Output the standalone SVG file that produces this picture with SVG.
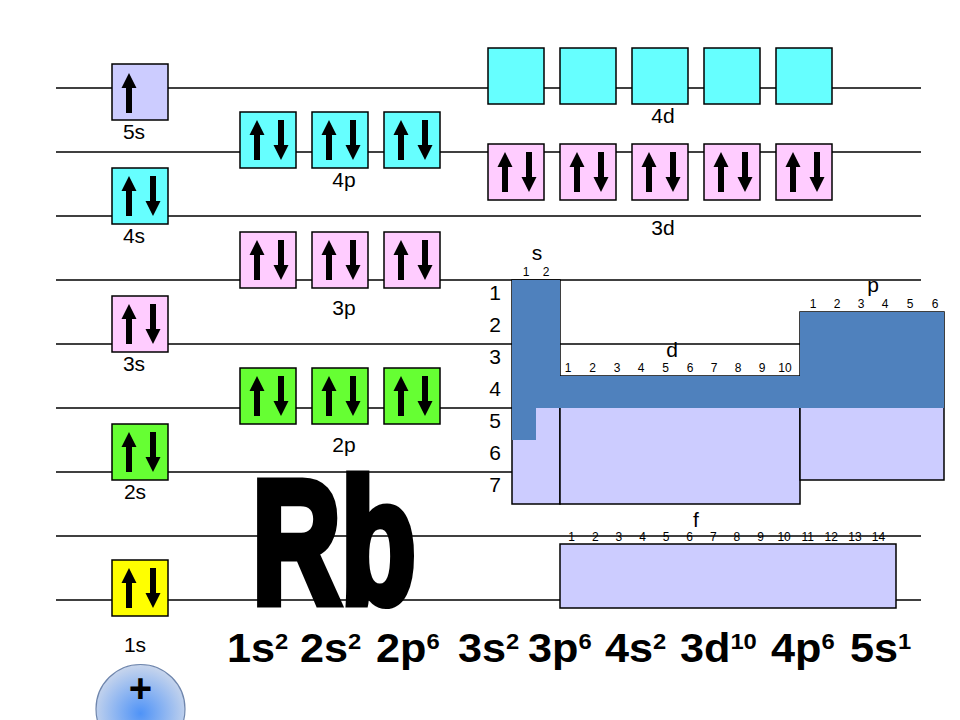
<svg xmlns="http://www.w3.org/2000/svg" xmlns:xlink="http://www.w3.org/1999/xlink" width="960" height="720" viewBox="0 0 960 720">
<style>
text{font-family:"Liberation Sans",Arial,sans-serif;fill:#000}
.lvl{stroke:#000;stroke-width:1.5}
.box{stroke:#000;stroke-width:1.5}
.lav{fill:#ccccff}.cy{fill:#66ffff}.pk{fill:#ffccff}.gr{fill:#66ff33}.ye{fill:#ffff00}
.lab{font-size:21px;text-anchor:middle}
.row{font-size:21px;text-anchor:middle}
.sm{font-size:12px;text-anchor:middle}
.cfg{font-size:40px;font-weight:bold}
.sup{font-size:22px}
</style>
<defs>
<polygon id="up" points="17,8 24.5,23 20,23 20,48 14,48 14,23 9.5,23" fill="#000"/>
<polygon id="dn" points="41,48 48.5,33 44,33 44,8 38,8 38,33 33.5,33" fill="#000"/>
<g id="pair"><use xlink:href="#up"/><use xlink:href="#dn"/></g>
<radialGradient id="nuc" cx="0.5" cy="0.55" r="0.55">
<stop offset="0" stop-color="#4f93f7"/>
<stop offset="1" stop-color="#c9d6ec"/>
</radialGradient>
</defs>
<rect width="960" height="720" fill="#fff"/>
<g id="levels">
<line class="lvl" x1="56" y1="88" x2="921" y2="88"/>
<line class="lvl" x1="56" y1="152" x2="921" y2="152"/>
<line class="lvl" x1="56" y1="216" x2="921" y2="216"/>
<line class="lvl" x1="56" y1="280" x2="921" y2="280"/>
<line class="lvl" x1="56" y1="344" x2="800" y2="344"/>
<line class="lvl" x1="56" y1="408" x2="921" y2="408"/>
<line class="lvl" x1="56" y1="472" x2="921" y2="472"/>
<line class="lvl" x1="56" y1="536" x2="921" y2="536"/>
<line class="lvl" x1="56" y1="600" x2="921" y2="600"/>
</g>
<g id="table">
<rect x="512" y="280" width="48" height="224" fill="#ccccff" stroke="#000" stroke-width="1.5"/>
<rect x="560" y="376" width="240" height="128" fill="#ccccff" stroke="#000" stroke-width="1.5"/>
<rect x="800" y="312" width="144" height="168" fill="#ccccff" stroke="#000" stroke-width="1.5"/>
<polygon points="512,280 560,280 560,376 800,376 800,312 944,312 944,408 536,408 536,440 512,440" fill="#4f81bd"/>
<text class="lab" x="537" y="260">s</text>
<text class="sm" x="526" y="276">1</text><text class="sm" x="546" y="276">2</text>
<text class="lab" x="873" y="292">p</text>
<text class="sm" x="813" y="308">1</text><text class="sm" x="837" y="308">2</text><text class="sm" x="861" y="308">3</text><text class="sm" x="885" y="308">4</text><text class="sm" x="910" y="308">5</text><text class="sm" x="935" y="308">6</text>
<text class="lab" x="672" y="357">d</text>
<text class="sm" x="568" y="372">1</text><text class="sm" x="592.5" y="372">2</text><text class="sm" x="617" y="372">3</text><text class="sm" x="641" y="372">4</text><text class="sm" x="665.5" y="372">5</text><text class="sm" x="690" y="372">6</text><text class="sm" x="714" y="372">7</text><text class="sm" x="738" y="372">8</text><text class="sm" x="762" y="372">9</text><text class="sm" x="785" y="372">10</text>
<text class="row" x="495" y="300">1</text>
<text class="row" x="495" y="332">2</text>
<text class="row" x="495" y="364">3</text>
<text class="row" x="495" y="396">4</text>
<text class="row" x="495" y="428">5</text>
<text class="row" x="495" y="460">6</text>
<text class="row" x="495" y="492">7</text>
</g>
<g id="fblock">
<rect x="560" y="544" width="336" height="64" fill="#ccccff" stroke="#000" stroke-width="1.5"/>
<text class="lab" x="696" y="527">f</text>
<text class="sm" x="571.7" y="541">1</text><text class="sm" x="595.3" y="541">2</text><text class="sm" x="618.9" y="541">3</text><text class="sm" x="642.5" y="541">4</text><text class="sm" x="666.1" y="541">5</text><text class="sm" x="689.7" y="541">6</text><text class="sm" x="713.3" y="541">7</text><text class="sm" x="736.9" y="541">8</text><text class="sm" x="760.5" y="541">9</text><text class="sm" x="784.1" y="541">10</text><text class="sm" x="807.7" y="541">11</text><text class="sm" x="831.3" y="541">12</text><text class="sm" x="854.9" y="541">13</text><text class="sm" x="878.5" y="541">14</text>
</g>
<g id="o5s"><rect class="box lav" x="112" y="64" width="56" height="56"/><use xlink:href="#up" x="112" y="65"/><text class="lab" x="134" y="139">5s</text></g>
<g id="o4s"><rect class="box cy" x="112" y="168" width="56" height="56"/><use xlink:href="#pair" x="112" y="168"/><text class="lab" x="134" y="243">4s</text></g>
<g id="o3s"><rect class="box pk" x="112" y="296" width="56" height="56"/><use xlink:href="#pair" x="112" y="296"/><text class="lab" x="134" y="371">3s</text></g>
<g id="o2s"><rect class="box gr" x="112" y="424" width="56" height="56"/><use xlink:href="#pair" x="112" y="424"/><text class="lab" x="135" y="499">2s</text></g>
<g id="o1s"><rect class="box ye" x="112" y="560" width="56" height="56"/><use xlink:href="#pair" x="112" y="560"/><text class="lab" x="135" y="652">1s</text></g>
<g id="o4p">
<rect class="box cy" x="240" y="112" width="56" height="56"/><use xlink:href="#pair" x="240" y="112"/>
<rect class="box cy" x="312" y="112" width="56" height="56"/><use xlink:href="#pair" x="312" y="112"/>
<rect class="box cy" x="384" y="112" width="56" height="56"/><use xlink:href="#pair" x="384" y="112"/>
<text class="lab" x="344" y="187">4p</text></g>
<g id="o3p">
<rect class="box pk" x="240" y="232" width="56" height="56"/><use xlink:href="#pair" x="240" y="232"/>
<rect class="box pk" x="312" y="232" width="56" height="56"/><use xlink:href="#pair" x="312" y="232"/>
<rect class="box pk" x="384" y="232" width="56" height="56"/><use xlink:href="#pair" x="384" y="232"/>
<text class="lab" x="344" y="315">3p</text></g>
<g id="o2p">
<rect class="box gr" x="240" y="368" width="56" height="56"/><use xlink:href="#pair" x="240" y="368"/>
<rect class="box gr" x="312" y="368" width="56" height="56"/><use xlink:href="#pair" x="312" y="368"/>
<rect class="box gr" x="384" y="368" width="56" height="56"/><use xlink:href="#pair" x="384" y="368"/>
<text class="lab" x="344" y="452">2p</text></g>
<g id="o4d">
<rect class="box cy" x="488" y="48" width="56" height="56"/>
<rect class="box cy" x="560" y="48" width="56" height="56"/>
<rect class="box cy" x="632" y="48" width="56" height="56"/>
<rect class="box cy" x="704" y="48" width="56" height="56"/>
<rect class="box cy" x="776" y="48" width="56" height="56"/>
<text class="lab" x="663" y="123">4d</text></g>
<g id="o3d">
<rect class="box pk" x="488" y="144" width="56" height="56"/><use xlink:href="#pair" x="488" y="144"/>
<rect class="box pk" x="560" y="144" width="56" height="56"/><use xlink:href="#pair" x="560" y="144"/>
<rect class="box pk" x="632" y="144" width="56" height="56"/><use xlink:href="#pair" x="632" y="144"/>
<rect class="box pk" x="704" y="144" width="56" height="56"/><use xlink:href="#pair" x="704" y="144"/>
<rect class="box pk" x="776" y="144" width="56" height="56"/><use xlink:href="#pair" x="776" y="144"/>
<text class="lab" x="663" y="235">3d</text></g>
<g id="symbol">
<text x="252" y="603" font-size="176" font-weight="bold" textLength="164" lengthAdjust="spacingAndGlyphs" stroke="#000" stroke-width="9" stroke-linejoin="miter">Rb</text>
</g>
<g id="config">
<text class="cfg" transform="translate(227,662) scale(1.08,1)">1s<tspan class="sup" dy="-13">2</tspan></text>
<text class="cfg" transform="translate(300,662) scale(1.08,1)">2s<tspan class="sup" dy="-13">2</tspan></text>
<text class="cfg" transform="translate(376,662) scale(1.08,1)">2p<tspan class="sup" dy="-13">6</tspan></text>
<text class="cfg" transform="translate(458,662) scale(1.08,1)">3s<tspan class="sup" dy="-13">2</tspan></text>
<text class="cfg" transform="translate(528,662) scale(1.08,1)">3p<tspan class="sup" dy="-13">6</tspan></text>
<text class="cfg" transform="translate(605,662) scale(1.08,1)">4s<tspan class="sup" dy="-13">2</tspan></text>
<text class="cfg" transform="translate(680,662) scale(1.08,1)">3d<tspan class="sup" dy="-13">10</tspan></text>
<text class="cfg" transform="translate(771,662) scale(1.08,1)">4p<tspan class="sup" dy="-13">6</tspan></text>
<text class="cfg" transform="translate(850,662) scale(1.08,1)">5s<tspan class="sup" dy="-13">1</tspan></text>
</g>
<g id="nucleus">
<circle cx="140.5" cy="709" r="44.5" fill="url(#nuc)" stroke="#6f86ad" stroke-width="1.2"/>
<text x="140.5" y="702" font-size="40" font-weight="bold" text-anchor="middle">+</text>
</g>
</svg>
